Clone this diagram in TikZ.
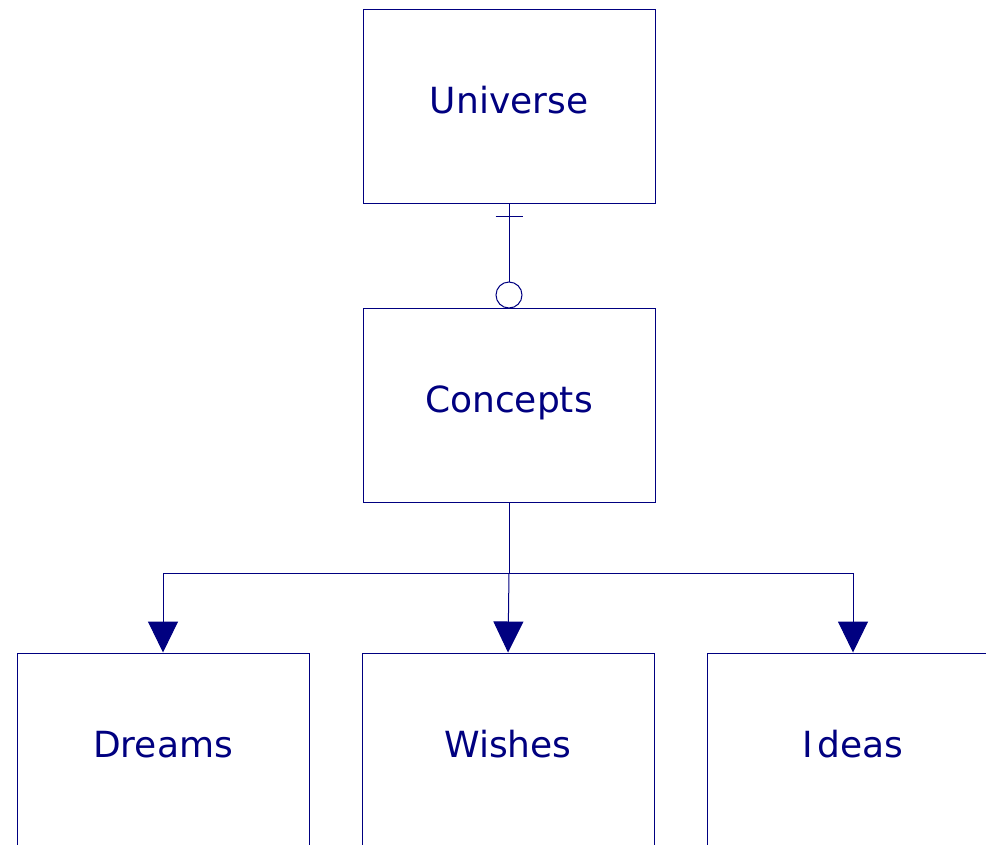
\documentclass[tikz,border=0pt]{standalone}
\usepackage{fontspec}
\setmainfont{DejaVu Sans}
\usetikzlibrary{arrows.meta,calc}
\definecolor{ink}{HTML}{000080}
\begin{document}
\begin{tikzpicture}[x=1pt,y=-1pt,
  entity/.style={draw=ink, line width=1pt, rectangle, minimum width=292pt,
    minimum height=194pt, inner sep=0pt, text=ink,
    font=\fontsize{36}{40}\selectfont, text height=27pt, text depth=12pt},
  link/.style={draw=ink, line width=1pt},
  flow/.style={link, -{Triangle[width=30pt,length=31pt,fill=ink]}}]
  \useasboundingbox (0,0) rectangle (986,844);
  \clip (0,0) rectangle (986,844);

  % entities
  \node[entity] (universe) at (509,106) {Universe};
  \node[entity] (concepts) at (509,405) {Concepts};
  \node[entity] (dreams)   at (163,750) {Dreams};
  \node[entity] (wishes)   at (508,750) {Wishes};
  \node[entity] (ideas)    at (853,750) {I\kern5pt deas};

  % one-to-optional relation between Universe and Concepts
  \node[draw=ink, line width=1pt, circle, minimum size=26pt, inner sep=0pt]
    (opt) at (509,295) {};
  \draw[link] (universe.south) -- (opt.north);
  \draw[link] ($(universe.south)+(-13.5,13)$) -- ++(27,0);

  % hierarchy from Concepts down to its three kinds
  \coordinate (bus) at (509,573);
  \draw[link] (concepts.south) -- (bus);
  \draw[flow] (bus) -| (dreams.north);
  \draw[flow] (bus) -- (wishes.north);
  \draw[flow] (bus) -| (ideas.north);
\end{tikzpicture}
\end{document}
